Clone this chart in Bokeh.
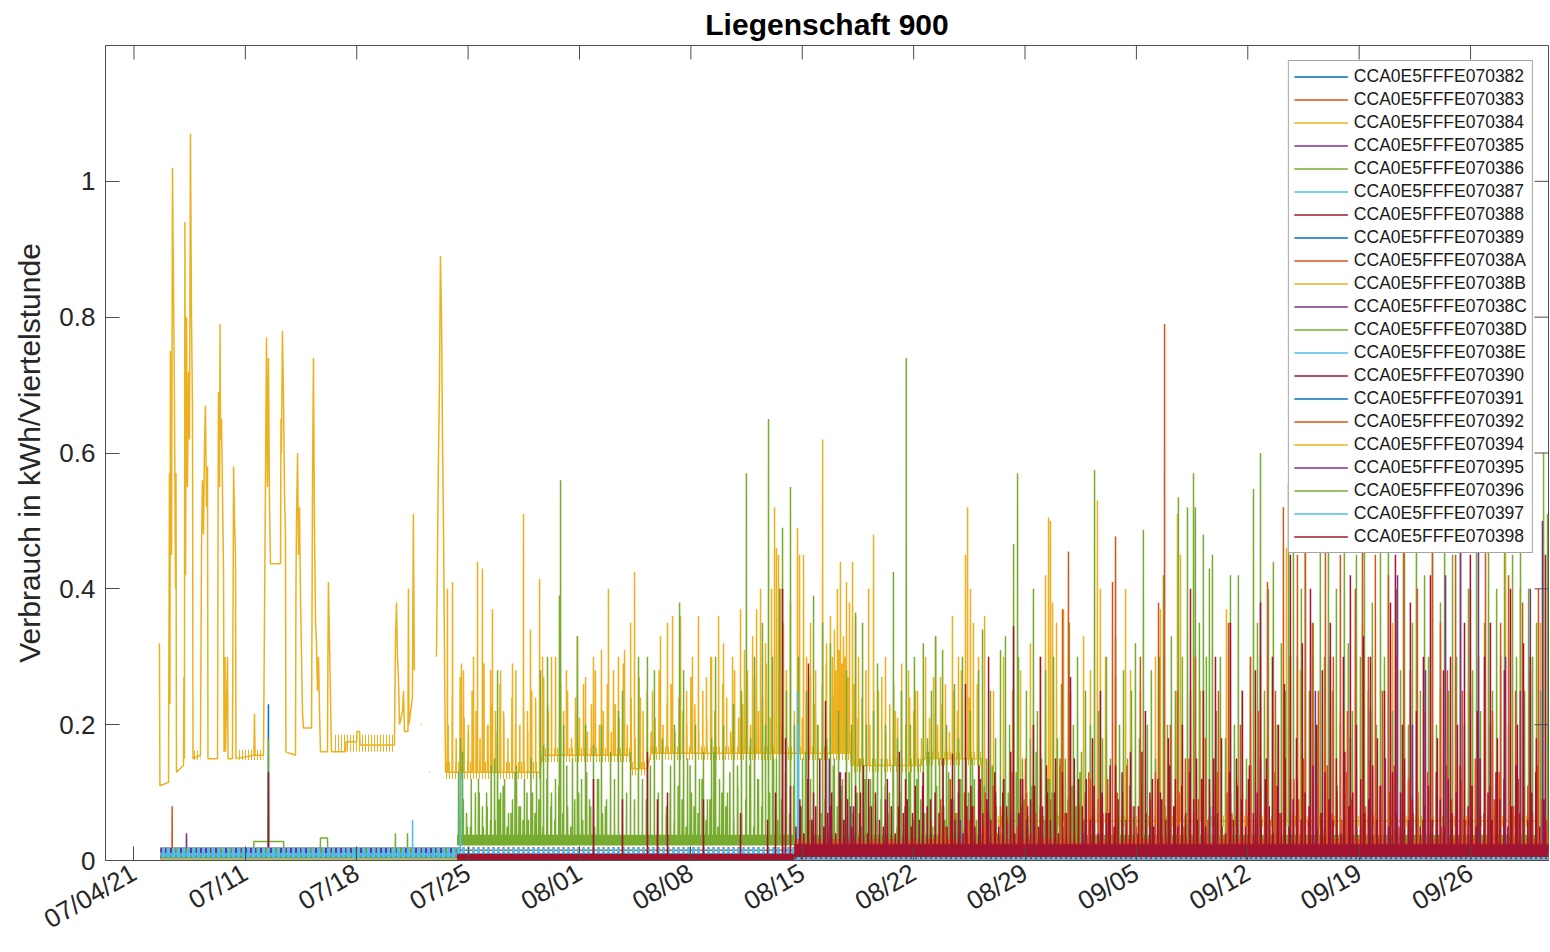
import math
import numpy as np
from bokeh.plotting import figure
from bokeh.models import FixedTicker, Legend, LegendItem, Range1d
from bokeh.embed import file_html
from bokeh.resources import INLINE

nan = float("nan")

# ---------------------------------------------------------------------------
# Axis definitions (time in days since 2021-07-04 00:00)
# ---------------------------------------------------------------------------
tick_days = [0, 7, 14, 21, 28, 35, 42, 49, 56, 63, 70, 77, 84]
tick_labels = ["07/04/21", "07/11", "07/18", "07/25", "08/01", "08/08", "08/15",
               "08/22", "08/29", "09/05", "09/12", "09/19", "09/26"]
y_ticks = [0, 0.2, 0.4, 0.6, 0.8, 1.0]
y_tick_labels = ["0", "0.2", "0.4", "0.6", "0.8", "1"]
x_limits = (-1.79, 88.9)
y_limits = (0.0, 1.2)

meter_ids = ["070382", "070383", "070384", "070385", "070386", "070387", "070388",
             "070389", "07038A", "07038B", "07038C", "07038D", "07038E", "070390",
             "070391", "070392", "070394", "070395", "070396", "070397", "070398"]

# ---------------------------------------------------------------------------
# Readings: raw polylines (day, kWh), single quarter-hour peaks (day, kWh),
# peak heights sampled on a regular grid (start day, step in days, kWh list),
# and low-level noise bands (start day, end day, low kWh, high kWh)
# ---------------------------------------------------------------------------
m382_raw = [(1.65, 0.006), (88.9, 0.006)]
m382_pk = [(8.45, 0.23)]

m383_raw = [(1.65, 0.004), (88.9, 0.004)]
m383_pk = [(2.40, 0.08)]

m384_raw = [
    (1.60, 0.32), (1.63, 0.11), (2.17, 0.115), (2.23, 0.57), (2.26, 0.23), (2.29, 0.75),
    (2.36, 0.45), (2.42, 1.02), (2.48, 0.85), (2.54, 0.69), (2.61, 0.40), (2.64, 0.57),
    (2.67, 0.13), (3.11, 0.14), (3.14, 0.27), (3.17, 0.15), (3.20, 0.94), (3.24, 0.42),
    (3.30, 0.80), (3.36, 0.55), (3.43, 0.72), (3.49, 0.62), (3.55, 1.07), (3.61, 0.81),
    (3.68, 0.66), (3.71, 0.15), (4.18, 0.155), (4.24, 0.45), (4.30, 0.56), (4.37, 0.48),
    (4.43, 0.61), (4.49, 0.67), (4.56, 0.52), (4.62, 0.58), (4.65, 0.15), (5.25, 0.15),
    (5.28, 0.45), (5.31, 0.69), (5.38, 0.55), (5.41, 0.79), (5.44, 0.62), (5.50, 0.65),
    (5.56, 0.55), (5.63, 0.42), (5.66, 0.16), (5.72, 0.30), (5.75, 0.16), (5.88, 0.30),
    (5.91, 0.15), (6.19, 0.15), (6.26, 0.58), (6.32, 0.50), (6.38, 0.45), (6.41, 0.15),
    (7.54, 0.155), (7.57, 0.216), (7.61, 0.155), (8.14, 0.155), (8.33, 0.77), (8.39, 0.55),
    (8.45, 0.74), (8.52, 0.52), (8.58, 0.437), (9.21, 0.437), (9.24, 0.65), (9.27, 0.60),
    (9.33, 0.78), (9.40, 0.68), (9.46, 0.54), (9.52, 0.48), (9.55, 0.16), (10.15, 0.155),
    (10.18, 0.40), (10.21, 0.49), (10.28, 0.60), (10.34, 0.45), (10.40, 0.52), (10.47, 0.38),
    (10.53, 0.30), (10.59, 0.22), (10.65, 0.195), (11.16, 0.195), (11.22, 0.55), (11.28, 0.74),
    (11.34, 0.50), (11.41, 0.35), (11.47, 0.32), (11.53, 0.25), (11.60, 0.30), (11.66, 0.22),
    (11.72, 0.16), (12.16, 0.16), (12.19, 0.30), (12.22, 0.41), (12.28, 0.33), (12.35, 0.24),
    (12.41, 0.16), (13.30, 0.16), (13.33, 0.175), (13.99, 0.175), (14.02, 0.19), (14.18, 0.19),
    (14.21, 0.17), (16.37, 0.17), (16.43, 0.32), (16.50, 0.38), (16.56, 0.30), (16.62, 0.27),
    (16.69, 0.20), (16.88, 0.22), (16.94, 0.25), (17.00, 0.19), (17.22, 0.19), (17.25, 0.40),
    (17.28, 0.20), (17.50, 0.24), (17.56, 0.51), (17.62, 0.28), (17.69, nan), (18.01, 0.20),
    (18.07, 0.20), (18.12, nan), (18.57, 0.13), (18.62, 0.13), (18.66, nan), (19.01, 0.30),
    (19.07, 0.44), (19.13, 0.58), (19.20, 0.70), (19.26, 0.89), (19.33, 0.80), (19.39, 0.62),
    (19.45, 0.50), (19.51, 0.32), (19.58, 0.13), (21.78, 0.13), (25.55, 0.135), (25.61, 0.155),
    (31.21, 0.155), (31.27, 0.135), (32.20, 0.135), (32.26, 0.158), (41.51, 0.158),
    (45.03, 0.16), (45.09, 0.14), (49.49, 0.14), (49.55, 0.15),
    (53.27, 0.15), (53.33, 0.058), (88.90, 0.058)]
m384_pk = [
    (19.70, 0.40), (20.02, 0.41), (20.58, 0.29), (20.71, 0.28), (21.02, 0.20), (21.34, 0.30),
    (21.59, 0.44), (21.90, 0.43), (22.22, 0.20), (22.41, 0.28), (22.53, 0.37), (22.72, 0.22),
    (23.04, 0.28), (23.23, 0.22), (23.79, 0.29), (23.98, 0.20), (24.48, 0.51), (24.73, 0.22),
    (24.92, 0.34), (25.24, 0.24), (25.49, 0.415), (25.68, 0.30), (26.05, 0.22), (26.24, 0.30),
    (26.49, 0.24), (26.81, 0.26), (27.18, 0.28), (27.87, 0.33), (28.38, 0.27), (28.88, 0.30),
    (29.38, 0.31), (29.82, 0.40), (30.14, 0.28), (30.45, 0.30), (30.83, 0.31), (31.21, 0.35),
    (31.46, 0.425), (31.83, 0.24), (32.59, 0.25), (33.09, 0.33), (33.53, 0.35), (33.85, 0.36),
    (34.35, 0.36), (34.73, 0.25), (35.10, 0.30), (35.48, 0.36), (35.98, 0.27), (36.30, 0.30),
    (36.74, 0.36), (37.05, 0.32), (37.62, 0.30), (38.12, 0.37), (38.37, 0.31), (38.56, 0.28),
    (38.88, 0.33), (39.13, 0.37), (39.38, 0.40), (39.69, 0.32), (40.07, 0.40), (40.26, 0.52),
    (40.38, 0.46), (40.51, 0.45), (40.63, 0.40), (40.82, 0.35), (41.26, 0.38), (41.70, 0.49),
    (41.83, 0.45), (42.08, 0.45), (42.27, 0.30), (42.52, 0.35), (42.84, 0.28), (43.28, 0.62),
    (43.53, 0.32), (43.77, 0.36), (43.90, 0.30), (44.02, 0.34), (44.10, 0.28), (44.21, 0.40),
    (44.30, 0.31), (44.40, 0.44), (44.50, 0.29), (44.59, 0.33), (44.68, 0.30), (44.78, 0.41),
    (44.88, 0.27), (44.97, 0.38), (45.16, 0.44), (45.35, 0.36), (45.54, 0.30), (46.17, 0.40),
    (46.48, 0.48), (46.79, 0.25), (47.23, 0.30), (47.86, 0.22), (48.68, 0.28), (49.12, 0.25),
    (49.75, 0.30), (50.38, 0.33), (50.69, 0.27), (51.44, 0.36), (51.82, 0.30), (52.26, 0.45),
    (52.39, 0.52), (52.57, 0.40), (52.76, 0.35), (53.08, 0.30), (53.46, 0.36), (54.02, 0.25),
    (54.65, 0.30), (55.22, 0.25), (55.72, 0.28), (56.34, 0.32), (56.97, 0.30), (57.29, 0.42),
    (57.48, 0.505), (57.60, 0.50), (57.73, 0.38), (57.98, 0.35), (58.42, 0.37), (58.86, 0.25),
    (59.68, 0.33), (60.11, 0.28), (60.55, 0.53), (60.74, 0.40), (61.06, 0.30), (61.69, 0.27),
    (62.32, 0.40), (62.63, 0.28), (63.25, 0.25), (64.20, 0.30), (64.51, 0.37), (65.58, 0.51),
    (65.77, 0.45), (67.02, 0.25), (68.66, 0.37), (70.80, 0.30), (72.43, 0.46), (73.31, 0.28),
    (75.82, 0.22), (77.21, 0.35), (79.10, 0.35), (82.11, 0.25), (83.99, 0.25), (86.20, 0.52),
    (87.13, 0.40), (88.39, 0.35)]
m384_grid = (19.75, 0.25, [
    0.20, 0.24, 0.18, 0.27, 0.21, 0.19, 0.25, 0.22, 0.18, 0.29, 0.20, 0.23, 0.19, 0.26, 0.21, 0.18, 0.24, 0.28, 0.20, 0.22,
    0.19, 0.25, 0.21, 0.18, 0.27, 0.23, 0.20, 0.30, 0.19, 0.22, 0.25, 0.18, 0.24, 0.21, 0.26, 0.19, 0.23, 0.28, 0.20, 0.22,
    0.26, 0.19, 0.23, 0.21, 0.29, 0.20, 0.24, 0.18, 0.27, 0.22, 0.25, 0.19, 0.21, 0.28, 0.20, 0.23, 0.26, 0.19, 0.24, 0.22,
    0.20, 0.27, 0.23, 0.19, 0.25, 0.21, 0.30, 0.22, 0.20, 0.26, 0.24, 0.19, 0.28, 0.21, 0.23, 0.25, 0.20, 0.27, 0.22, 0.24,
    0.29, 0.21, 0.26, 0.23, 0.20, 0.28, 0.24, 0.22, 0.30, 0.21, 0.25, 0.27, 0.23, 0.20, 0.26, 0.29, 0.22, 0.24, 0.21, 0.27,
    0.23, 0.19, 0.26, 0.21, 0.24, 0.28, 0.20, 0.25, 0.22, 0.27, 0.19, 0.23, 0.26, 0.21, 0.29, 0.20, 0.24, 0.22, 0.25, 0.18,
    0.24, 0.21, 0.27, 0.20, 0.23, 0.26, 0.19, 0.25, 0.22, 0.28, 0.20, 0.24, 0.21, 0.26])
m384_band = [(3.68, 4.18, 0.148, 0.162), (6.51, 8.14, 0.148, 0.163), (12.54, 16.37, 0.16, 0.185),
             (19.6, 25.55, 0.12, 0.145), (25.55, 31.21, 0.145, 0.166), (31.21, 32.2, 0.125, 0.145),
             (32.2, 45.0, 0.148, 0.168), (45.0, 49.5, 0.13, 0.15),
             (49.5, 53.3, 0.14, 0.16), (53.3, 88.9, 0.05, 0.066)]

m385_raw = [(1.65, 0.015), (20.3, 0.015), (20.31, nan)]
m385_pk = [(3.30, 0.04)]
m385_band = [(1.65, 20.3, 0.011, 0.019)]

m386_raw = [(20.30, 0.03), (88.90, 0.03)]
m386_pk = [
    (20.40, 0.13), (20.52, 0.18), (20.65, 0.16), (20.90, 0.07), (21.15, 0.05), (21.46, 0.10),
    (21.65, 0.12), (21.90, 0.08), (22.16, 0.10), (22.41, 0.06), (22.66, 0.15), (22.85, 0.28),
    (23.04, 0.10), (23.29, 0.12), (23.54, 0.07), (23.79, 0.09), (24.04, 0.14), (24.29, 0.08),
    (24.54, 0.12), (24.79, 0.06), (25.05, 0.10), (25.30, 0.13), (25.55, 0.28), (25.74, 0.17),
    (25.99, 0.30), (26.24, 0.10), (26.49, 0.12), (26.74, 0.39), (26.81, 0.56), (27.00, 0.20),
    (27.25, 0.08), (27.56, 0.15), (27.87, 0.33), (28.13, 0.12), (28.38, 0.20), (28.63, 0.09),
    (28.88, 0.17), (29.13, 0.12), (29.38, 0.20), (29.63, 0.08), (29.95, 0.15), (30.20, 0.12),
    (30.45, 0.22), (30.70, 0.25), (30.96, 0.10), (31.21, 0.16), (31.46, 0.09), (31.71, 0.30),
    (31.96, 0.12), (32.27, 0.30), (32.46, 0.14), (32.71, 0.28), (32.96, 0.10), (33.21, 0.18),
    (33.47, 0.08), (33.72, 0.14), (33.97, 0.20), (34.29, 0.38), (34.54, 0.28), (34.79, 0.15),
    (35.04, 0.10), (35.29, 0.20), (35.54, 0.12), (35.79, 0.16), (36.04, 0.09), (36.30, 0.18),
    (36.55, 0.30), (36.80, 0.12), (37.05, 0.20), (37.30, 0.10), (37.68, 0.23), (37.93, 0.14),
    (38.18, 0.25), (38.49, 0.57), (38.75, 0.18), (39.00, 0.30), (39.25, 0.12), (39.50, 0.35),
    (39.69, 0.20), (39.88, 0.65), (40.13, 0.30), (40.38, 0.15), (40.57, 0.40), (40.76, 0.49),
    (41.01, 0.25), (41.26, 0.55), (41.51, 0.20), (41.76, 0.30), (42.02, 0.15), (42.27, 0.25),
    (42.52, 0.12), (42.71, 0.39), (42.96, 0.20), (43.28, 0.35), (43.53, 0.18), (43.77, 0.32),
    (44.02, 0.15), (44.28, 0.22), (44.53, 0.12), (44.78, 0.28), (45.10, 0.20), (45.35, 0.365),
    (45.60, 0.15), (45.79, 0.35), (46.04, 0.20), (46.29, 0.12), (46.48, 0.22), (46.73, 0.29),
    (46.98, 0.15), (47.23, 0.20), (47.48, 0.10), (47.73, 0.425), (47.98, 0.18), (48.23, 0.25),
    (48.54, 0.74), (48.80, 0.20), (49.05, 0.30), (49.30, 0.15), (49.61, 0.32), (49.87, 0.18),
    (50.12, 0.25), (50.38, 0.33), (50.63, 0.15), (50.82, 0.31), (51.07, 0.20), (51.32, 0.12),
    (51.57, 0.26), (51.82, 0.18), (52.07, 0.30), (52.32, 0.15), (52.57, 0.22), (52.82, 0.12),
    (53.08, 0.28), (53.33, 0.34), (53.58, 0.15), (53.83, 0.25), (54.15, 0.18), (54.46, 0.31),
    (54.77, 0.33), (55.03, 0.20), (55.28, 0.466), (55.53, 0.57), (55.59, 0.30), (55.84, 0.15),
    (56.09, 0.25), (56.34, 0.18), (56.53, 0.40), (56.78, 0.22), (57.04, 0.15), (57.29, 0.28),
    (57.54, 0.12), (57.79, 0.30), (58.04, 0.18), (58.29, 0.26), (58.54, 0.15), (58.79, 0.35),
    (59.04, 0.20), (59.30, 0.30), (59.55, 0.16), (59.80, 0.25), (60.11, 0.20), (60.37, 0.575),
    (60.62, 0.22), (60.87, 0.18), (61.12, 0.30), (61.37, 0.15), (61.69, 0.33), (61.94, 0.20),
    (62.19, 0.28), (62.44, 0.15), (62.69, 0.25), (62.94, 0.32), (63.19, 0.18), (63.44, 0.487),
    (63.69, 0.20), (63.94, 0.28), (64.20, 0.15), (64.45, 0.30), (64.70, 0.42), (64.95, 0.20),
    (65.20, 0.33), (65.45, 0.25), (65.64, 0.535), (65.89, 0.30), (66.21, 0.52), (66.40, 0.25),
    (66.59, 0.57), (66.71, 0.52), (66.96, 0.35), (67.21, 0.48), (67.40, 0.30), (67.59, 0.43),
    (67.78, 0.45), (68.03, 0.22), (68.28, 0.30), (68.60, 0.18), (68.91, 0.42), (69.16, 0.20),
    (69.41, 0.42), (69.66, 0.25), (69.92, 0.15), (70.17, 0.30), (70.36, 0.547), (70.61, 0.35),
    (70.80, 0.60), (71.05, 0.25), (71.30, 0.40), (71.61, 0.44), (71.86, 0.20), (72.11, 0.32),
    (72.37, 0.25), (72.56, 0.555), (72.87, 0.48), (73.12, 0.30), (73.37, 0.40), (73.62, 0.62),
    (73.87, 0.25), (74.12, 0.35), (74.37, 0.20), (74.56, 0.46), (74.82, 0.30), (75.07, 0.55),
    (75.32, 0.25), (75.57, 0.40), (75.82, 0.20), (76.07, 0.50), (76.32, 0.32), (76.58, 0.22),
    (76.83, 0.45), (77.08, 0.30), (77.33, 0.60), (77.58, 0.25), (77.83, 0.38), (78.09, 0.20),
    (78.34, 0.48), (78.59, 0.30), (78.84, 0.55), (79.10, 0.22), (79.35, 0.40), (79.60, 0.28),
    (79.85, 0.50), (80.10, 0.20), (80.35, 0.35), (80.60, 0.58), (80.85, 0.25), (81.11, 0.42),
    (81.36, 0.30), (81.61, 0.55), (81.86, 0.20), (82.11, 0.38), (82.37, 0.50), (82.62, 0.25),
    (82.87, 0.45), (83.12, 0.30), (83.37, 0.62), (83.62, 0.20), (83.87, 0.40), (84.13, 0.28),
    (84.38, 0.52), (84.63, 0.22), (84.88, 0.35), (85.13, 0.48), (85.38, 0.25), (85.64, 0.40),
    (85.89, 0.30), (86.14, 0.55), (86.39, 0.20), (86.64, 0.45), (86.89, 0.30), (87.14, 0.50),
    (87.40, 0.25), (87.65, 0.40), (87.90, 0.30), (88.15, 0.35), (88.40, 0.25), (88.59, 0.60),
    (88.84, 0.51)]
m386_grid = (20.45, 0.25, [
    0.06, 0.09, 0.05, 0.12, 0.07, 0.10, 0.05, 0.08, 0.14, 0.06, 0.09, 0.11, 0.05, 0.07, 0.13, 0.08, 0.06, 0.10, 0.15, 0.07,
    0.09, 0.05, 0.12, 0.08, 0.06, 0.11, 0.07, 0.14, 0.05, 0.09, 0.10, 0.06, 0.13, 0.08, 0.05, 0.12, 0.07, 0.09, 0.16, 0.06,
    0.08, 0.11, 0.05, 0.10, 0.07, 0.13, 0.06, 0.09, 0.12, 0.05, 0.08, 0.15, 0.07, 0.10, 0.06, 0.11, 0.09, 0.05, 0.14, 0.08,
    0.07, 0.12, 0.06, 0.09, 0.16, 0.05, 0.10, 0.08, 0.13, 0.06, 0.11, 0.07, 0.09, 0.14, 0.05, 0.12, 0.08, 0.06, 0.10, 0.15,
    0.06, 0.09, 0.13, 0.07, 0.11, 0.05, 0.08, 0.16, 0.06, 0.10, 0.12, 0.07, 0.09, 0.05, 0.14, 0.08, 0.11, 0.06, 0.13, 0.07,
    0.10, 0.05, 0.12, 0.08, 0.15, 0.06, 0.09, 0.11, 0.07, 0.14, 0.05, 0.10, 0.08, 0.13, 0.06, 0.12, 0.09, 0.07, 0.16, 0.05,
    0.11, 0.08, 0.06, 0.13, 0.09, 0.07, 0.12, 0.05, 0.10, 0.15, 0.06, 0.09, 0.11, 0.07, 0.14, 0.08, 0.05, 0.12, 0.10, 0.06,
    0.13, 0.07, 0.09, 0.05, 0.11, 0.16, 0.08, 0.06, 0.12, 0.10, 0.07, 0.14, 0.05, 0.09, 0.11, 0.08, 0.13, 0.06])
m386_band = [(20.3, 88.9, 0.022, 0.038)]

m387_raw = [(1.65, 0.010), (88.9, 0.010)]
m387_pk = [(17.51, 0.06), (20.52, 0.13), (41.70, 0.25), (41.76, 0.20), (67.65, 0.08)]

m388_raw = [(1.65, 0.004), (88.9, 0.004)]
m389_raw = [(1.65, 0.003), (88.9, 0.003)]

m38A_raw = [(1.65, 0.005), (88.9, 0.005)]
m38A_band = [(1.65, 20.3, 0.0, 0.009)]

m38B_raw = [(1.65, 0.005), (88.9, 0.005)]
m38B_band = [(1.65, 88.9, 0.0, 0.009)]

m38C_raw = [(1.65, 0.008), (88.9, 0.008)]

m38D_raw = [(1.65, 0.005), (7.50, 0.005), (7.54, 0.028), (9.40, 0.028), (9.44, 0.005),
            (11.70, 0.005), (11.72, 0.033), (12.16, 0.033), (12.19, 0.005), (88.9, 0.005)]
m38D_pk = [(8.45, 0.18), (16.43, 0.04), (17.19, 0.04)]
m38D_band = [(1.65, 20.3, 0.011, 0.019)]

m38E_raw = [(1.65, 0.008), (88.9, 0.008)]

m390_raw = [(1.65, 0.005), (88.9, 0.005)]
m390_pk = [(8.45, 0.13)]

m391_raw = [(1.65, 0.004), (88.9, 0.004)]

m392_raw = [(20.3, 0.015), (41.5, 0.015), (41.56, 0.025), (88.9, 0.025)]
m392_pk = [
    (53.50, 0.10), (54.46, 0.08), (56.03, 0.15), (58.36, 0.37), (58.73, 0.455), (60.11, 0.12),
    (61.50, 0.41), (61.69, 0.477), (63.25, 0.30), (64.39, 0.38), (64.77, 0.79), (65.14, 0.20),
    (65.58, 0.25), (66.08, 0.15), (66.71, 0.30), (67.34, 0.18), (68.16, 0.25), (68.79, 0.35),
    (69.54, 0.20), (70.17, 0.30), (70.67, 0.22), (71.24, 0.41), (71.74, 0.25), (72.24, 0.52),
    (72.68, 0.30), (73.12, 0.45), (73.62, 0.50), (74.06, 0.35), (74.44, 0.25), (74.88, 0.48),
    (75.38, 0.30), (75.82, 0.45), (76.26, 0.22), (76.76, 0.40), (77.21, 0.52), (77.58, 0.30),
    (78.02, 0.45), (78.46, 0.25), (78.84, 0.42), (79.35, 0.30), (79.79, 0.48), (80.22, 0.28),
    (80.66, 0.40), (81.11, 0.22), (81.61, 0.50), (82.11, 0.35), (82.55, 0.28), (83.06, 0.45),
    (83.49, 0.25), (83.99, 0.40), (84.50, 0.30), (84.94, 0.48), (85.38, 0.22), (85.89, 0.35),
    (86.39, 0.42), (86.83, 0.25), (87.27, 0.38), (87.76, 0.28), (88.27, 0.40)]
m392_grid = (50.1, 0.3, [
    0.06, 0.04, 0.09, 0.05, 0.12, 0.07, 0.04, 0.10, 0.06, 0.08, 0.14, 0.05, 0.07, 0.11, 0.04, 0.09, 0.06, 0.13, 0.05, 0.08,
    0.10, 0.04, 0.07, 0.12, 0.06, 0.09, 0.05, 0.15, 0.07, 0.04, 0.11, 0.08, 0.06, 0.13, 0.05, 0.09, 0.07, 0.12, 0.04, 0.10,
    0.06, 0.14, 0.08, 0.05, 0.11, 0.07, 0.09, 0.13, 0.04, 0.08, 0.12, 0.06, 0.10, 0.05, 0.15, 0.07, 0.09, 0.11, 0.06, 0.08,
    0.13, 0.05, 0.10, 0.07, 0.12, 0.06, 0.09, 0.14, 0.05, 0.11, 0.08, 0.06, 0.13, 0.07, 0.10, 0.05, 0.12, 0.09, 0.15, 0.06,
    0.08, 0.11, 0.05, 0.14, 0.07, 0.10, 0.06, 0.13, 0.09, 0.12, 0.05, 0.08, 0.15, 0.07, 0.11, 0.06, 0.10, 0.14, 0.05, 0.09,
    0.12, 0.07, 0.10, 0.06, 0.13, 0.08, 0.11, 0.05, 0.14, 0.09, 0.07, 0.12, 0.06, 0.10, 0.15, 0.08, 0.05, 0.11, 0.09, 0.13,
    0.06, 0.10, 0.08, 0.12, 0.05, 0.11, 0.07, 0.14, 0.09, 0.06])
m392_band = [(20.3, 41.5, 0.010, 0.020), (41.5, 88.9, 0.022, 0.032)]

m394_raw = [(1.65, 0.003), (88.9, 0.003)]

m395_raw = [(20.3, 0.003), (88.9, 0.003)]
m395_pk = [
    (43.70, 0.15), (44.40, 0.13), (45.03, 0.08), (51.94, 0.06), (55.09, 0.07), (59.68, 0.04),
    (63.88, 0.05), (68.91, 0.10), (70.80, 0.15), (72.68, 0.12), (74.25, 0.25), (75.19, 0.30),
    (76.45, 0.18), (77.71, 0.22), (78.65, 0.15), (79.41, 0.42), (80.35, 0.20), (81.17, 0.28),
    (82.43, 0.42), (83.37, 0.50), (84.50, 0.46), (85.25, 0.20), (86.20, 0.30), (87.13, 0.25),
    (87.76, 0.40), (88.52, 0.50)]

m396_raw = [(1.65, 0.006), (88.9, 0.006)]

m397_raw = [(1.65, 0.010), (88.9, 0.010)]
m397_band = [(1.65, 41.5, 0.002, 0.019), (41.5, 88.9, 0.0, 0.005)]

m398_raw = [(20.3, 0.005), (41.5, 0.005), (41.56, 0.013), (88.9, 0.013)]
m398_pk = [
    (28.88, 0.12), (30.70, 0.09), (32.27, 0.16), (32.90, 0.09), (33.53, 0.10), (35.79, 0.09),
    (38.12, 0.07), (39.82, 0.06), (40.32, 0.10), (40.76, 0.40), (40.95, 0.18), (41.26, 0.11),
    (41.89, 0.08), (42.39, 0.29), (42.71, 0.10), (43.46, 0.235), (43.77, 0.08), (44.40, 0.09),
    (44.72, 0.13), (45.22, 0.08), (45.66, 0.10), (46.17, 0.12), (46.61, 0.07), (47.23, 0.09),
    (48.05, 0.08), (48.49, 0.12), (48.93, 0.07), (49.56, 0.11), (50.06, 0.09), (50.88, 0.08),
    (51.44, 0.157), (51.82, 0.10), (52.26, 0.26), (52.70, 0.08), (53.20, 0.12), (53.71, 0.30),
    (54.15, 0.10), (54.65, 0.12), (55.28, 0.345), (55.72, 0.12), (56.16, 0.08), (56.53, 0.20),
    (56.97, 0.30), (57.41, 0.10), (57.92, 0.15), (58.36, 0.09), (58.86, 0.27), (59.36, 0.12),
    (59.80, 0.10), (60.24, 0.18), (60.74, 0.25), (61.25, 0.07), (61.69, 0.14), (62.13, 0.10),
    (62.63, 0.16), (63.13, 0.08), (63.57, 0.22), (64.01, 0.12), (64.51, 0.10), (65.01, 0.18),
    (65.45, 0.12), (65.89, 0.20), (66.40, 0.40), (66.78, 0.15), (67.21, 0.25), (67.59, 0.12),
    (67.97, 0.30), (68.35, 0.18), (68.91, 0.35), (69.29, 0.15), (69.66, 0.25), (70.04, 0.12),
    (70.48, 0.28), (70.80, 0.38), (71.17, 0.15), (71.55, 0.30), (71.93, 0.20), (72.30, 0.26),
    (72.68, 0.45), (73.06, 0.18), (73.43, 0.32), (73.94, 0.40), (74.31, 0.20), (74.69, 0.28),
    (75.19, 0.35), (75.57, 0.15), (76.01, 0.30), (76.45, 0.42), (76.83, 0.20), (77.27, 0.33),
    (77.71, 0.30), (78.15, 0.18), (78.59, 0.25), (78.97, 0.38), (79.28, 0.45), (79.72, 0.20),
    (80.22, 0.38), (80.60, 0.22), (81.04, 0.30), (81.48, 0.42), (81.92, 0.18), (82.30, 0.28),
    (82.74, 0.30), (83.18, 0.20), (83.62, 0.35), (83.99, 0.45), (84.43, 0.22), (84.88, 0.30),
    (85.25, 0.35), (85.69, 0.18), (86.13, 0.28), (86.51, 0.40), (86.95, 0.20), (87.33, 0.32),
    (87.76, 0.30), (88.14, 0.18), (88.71, 0.45)]
m398_grid = (41.6, 0.25, [
    0.05, 0.09, 0.04, 0.12, 0.06, 0.08, 0.15, 0.05, 0.07, 0.10, 0.04, 0.13, 0.06, 0.09, 0.05, 0.11, 0.07, 0.14, 0.04, 0.08,
    0.10, 0.06, 0.05, 0.12, 0.08, 0.04, 0.16, 0.07, 0.09, 0.05, 0.11, 0.06, 0.13, 0.08, 0.04, 0.10, 0.07, 0.15, 0.05, 0.09,
    0.06, 0.12, 0.04, 0.08, 0.11, 0.05, 0.14, 0.07, 0.09, 0.06, 0.13, 0.05, 0.10, 0.08, 0.16, 0.04, 0.07, 0.12, 0.06, 0.09,
    0.11, 0.05, 0.08, 0.14, 0.06, 0.10, 0.04, 0.13, 0.07, 0.09, 0.15, 0.05, 0.08, 0.12, 0.06, 0.11, 0.04, 0.10, 0.07, 0.14,
    0.05, 0.09, 0.13, 0.06, 0.11, 0.08, 0.04, 0.16, 0.07, 0.10, 0.05, 0.12, 0.09, 0.06, 0.14, 0.08, 0.05, 0.11, 0.07, 0.13,
    0.09, 0.06, 0.12, 0.05, 0.10, 0.15, 0.07, 0.08, 0.04, 0.13, 0.06, 0.11, 0.09, 0.05, 0.14, 0.07, 0.10, 0.06, 0.12, 0.08,
    0.04, 0.11, 0.07, 0.15, 0.05, 0.09, 0.12, 0.06, 0.10, 0.08, 0.14, 0.05, 0.07, 0.13, 0.09, 0.06, 0.11, 0.04, 0.16, 0.08,
    0.10, 0.05, 0.12, 0.07, 0.09, 0.14, 0.06, 0.11, 0.08, 0.05, 0.13, 0.07, 0.10, 0.15, 0.06, 0.09, 0.12, 0.05, 0.08, 0.11,
    0.06, 0.13, 0.09, 0.05, 0.12, 0.07, 0.10, 0.14, 0.06,
    0.08, 0.11, 0.05, 0.15, 0.07, 0.10, 0.06, 0.13, 0.09, 0.12, 0.05, 0.08, 0.14, 0.07, 0.11, 0.06, 0.10, 0.13, 0.05, 0.09])
m398_band = [(20.3, 41.5, 0.0, 0.010), (41.5, 88.9, 0.005, 0.024)]

raw = {"070382": m382_raw, "070383": m383_raw, "070384": m384_raw, "070385": m385_raw,
       "070386": m386_raw, "070387": m387_raw, "070388": m388_raw, "070389": m389_raw,
       "07038A": m38A_raw, "07038B": m38B_raw, "07038C": m38C_raw, "07038D": m38D_raw,
       "07038E": m38E_raw, "070390": m390_raw, "070391": m391_raw, "070392": m392_raw,
       "070394": m394_raw, "070395": m395_raw, "070396": m396_raw, "070397": m397_raw,
       "070398": m398_raw}
peaks = {"070382": m382_pk, "070383": m383_pk, "070384": m384_pk, "070385": m385_pk,
         "070386": m386_pk, "070387": m387_pk, "07038D": m38D_pk, "070390": m390_pk,
         "070392": m392_pk, "070395": m395_pk, "070398": m398_pk}
grids = {"070384": m384_grid, "070386": m386_grid, "070392": m392_grid, "070398": m398_grid}
bands = {"070384": m384_band, "070385": m385_band, "070386": m386_band, "07038A": m38A_band,
         "07038B": m38B_band, "07038D": m38D_band, "070392": m392_band, "070397": m397_band,
         "070398": m398_band}

# ---------------------------------------------------------------------------
# Styling
# ---------------------------------------------------------------------------
palette = ["#0072BD", "#D95319", "#EDB120", "#7E2F8E", "#77AC30", "#4DBEEE", "#A2142F"]
band_hatch = {"070384": (3, 1.0), "07038A": (11, 2.5), "07038D": (9, 2.5),
              "070392": (5, 2.0), "070397": (5, 3.0)}
FONT = "Liberation Sans"
INK = "#262626"
FRAME = "#4d4d4d"
QUARTER = 1.0 / 96.0
TICK_PX = 14
FRAME_W, FRAME_H = 1443, 815


def trace(points, pk):
    """Merge a raw polyline with quarter-hour peaks rising from the current level."""
    pts = sorted(points, key=lambda p: p[0])
    rt = np.array([p[0] for p in pts], dtype=float)
    rv = np.array([p[1] for p in pts], dtype=float)
    xs, ys = list(rt), list(rv)
    for t, v in pk:
        i = max(int(np.searchsorted(rt, t, side="right")) - 1, 0)
        b = rv[i]
        xs += [t - QUARTER, t, t + QUARTER]
        ys += [b, v, b]
    order = np.argsort(np.array(xs), kind="stable")
    return np.array(xs)[order], np.array(ys)[order]


def grid_peaks(grid):
    start, step, values = grid
    return [(start + k * step, v) for k, v in enumerate(values)]


p = figure(width=1550, height=952, output_backend="svg", toolbar_location=None,
           x_range=Range1d(*x_limits), y_range=Range1d(*y_limits),
           min_border_left=105, min_border_right=2, min_border_top=45, min_border_bottom=92)
p.background_fill_color = "white"
p.border_fill_color = "white"
p.outline_line_color = FRAME
p.outline_line_width = 1
p.grid.visible = False

p.title.text = "Liegenschaft 900"
p.title.align = "center"
p.title.vertical_align = "top"
p.title.text_font = FONT
p.title.text_font_size = "30px"
p.title.text_font_style = "bold"
p.title.text_color = "#000000"
p.title.standoff = 6

items = []
for i, mid in enumerate(meter_ids):
    color = palette[i % len(palette)]
    for (a, b, lo, hi) in bands.get(mid, []):
        if mid in band_hatch:
            scale, weight = band_hatch[mid]
            p.quad(left=[a], right=[b], bottom=[lo], top=[hi], fill_color=None, line_color=None,
                   hatch_pattern="vertical_line", hatch_color=color, hatch_scale=scale,
                   hatch_weight=weight)
        else:
            p.quad(left=[a], right=[b], bottom=[lo], top=[hi], fill_color=color, line_color=None)
    pk = list(peaks.get(mid, []))
    if mid in grids:
        pk += grid_peaks(grids[mid])
    xs, ys = trace(raw[mid], pk)
    r = p.line(xs, ys, line_color=color, line_width=1.5)
    items.append(LegendItem(label="CCA0E5FFFE" + mid, renderers=[r]))

# Axes: ticks pointing inward
xa = p.xaxis[0]
xa.ticker = FixedTicker(ticks=tick_days)
xa.major_label_overrides = {d: s for d, s in zip(tick_days, tick_labels)}
xa.major_label_orientation = math.pi / 6
ya = p.yaxis[0]
ya.ticker = FixedTicker(ticks=y_ticks)
ya.major_label_overrides = {v: s for v, s in zip(y_ticks, y_tick_labels)}
ya.axis_label = "Verbrauch in kWh/Viertelstunde"
ya.axis_label_text_font = FONT
ya.axis_label_text_font_size = "30px"
ya.axis_label_text_font_style = "normal"
ya.axis_label_text_color = INK
ya.axis_label_standoff = 10

for ax in (xa, ya):
    ax.major_label_text_font = FONT
    ax.major_label_text_font_size = "26px"
    ax.major_label_text_color = INK
    ax.major_label_standoff = 10
    ax.major_tick_in = TICK_PX
    ax.major_tick_out = 0
    ax.minor_tick_line_color = None
    ax.axis_line_color = FRAME
    ax.major_tick_line_color = FRAME

# Mirrored ticks along the top and right edges of the box
dy = TICK_PX * (y_limits[1] - y_limits[0]) / FRAME_H
dx = TICK_PX * (x_limits[1] - x_limits[0]) / FRAME_W
p.segment(x0=tick_days, x1=tick_days, y0=[y_limits[1]] * len(tick_days),
          y1=[y_limits[1] - dy] * len(tick_days), line_color=FRAME, line_width=1)
p.segment(x0=[x_limits[1]] * len(y_ticks), x1=[x_limits[1] - dx] * len(y_ticks),
          y0=y_ticks, y1=y_ticks, line_color=FRAME, line_width=1)

legend = Legend(items=items, location="top_right", margin=15, padding=5, spacing=2,
                glyph_width=54, glyph_height=21, label_height=21, label_standoff=6,
                label_text_font=FONT, label_text_font_size="17.5px", label_text_color="#1a1a1a",
                border_line_color=FRAME, border_line_width=1, background_fill_color="white",
                background_fill_alpha=1.0)
p.add_layout(legend)

open("out.html", "w").write(file_html(p, INLINE))
